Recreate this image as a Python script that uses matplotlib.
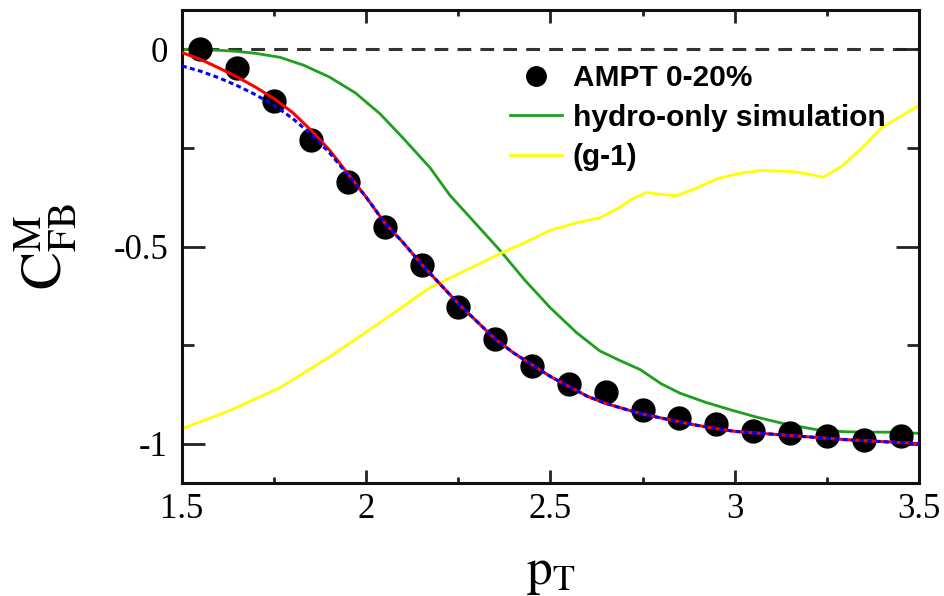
import matplotlib
matplotlib.use("Agg")
import matplotlib.pyplot as plt

# ------------------------- data -------------------------
ampt_x = [1.55, 1.65, 1.75, 1.85, 1.95, 2.05, 2.15, 2.25, 2.35, 2.45,
          2.55, 2.65, 2.75, 2.85, 2.95, 3.05, 3.15, 3.25, 3.35, 3.45]
ampt_y = [0.0, -0.046, -0.132, -0.229, -0.337, -0.451, -0.548, -0.654, -0.734, -0.802,
          -0.848, -0.870, -0.916, -0.934, -0.950, -0.967, -0.972, -0.982, -0.992, -0.980]

fit_x = [1.50, 1.55, 1.60, 1.65, 1.70, 1.75, 1.80, 1.85, 1.90, 1.95, 2.00, 2.05,
         2.10, 2.15, 2.20, 2.25, 2.30, 2.35, 2.40, 2.45, 2.50, 2.55, 2.60, 2.65,
         2.70, 2.75, 2.80, 2.85, 2.90, 2.95, 3.00, 3.10, 3.20, 3.30, 3.40, 3.50]
red_y = [-0.008, -0.025, -0.047, -0.070, -0.096, -0.125, -0.160, -0.205, -0.255, -0.315,
         -0.375, -0.440, -0.490, -0.545, -0.595, -0.645, -0.690, -0.735, -0.770, -0.800,
         -0.830, -0.855, -0.880, -0.898, -0.912, -0.925, -0.935, -0.945, -0.954, -0.962,
         -0.969, -0.976, -0.983, -0.990, -0.995, -1.000]
blue_y = [-0.042, -0.055, -0.072, -0.092, -0.115, -0.142, -0.175, -0.215, -0.262, -0.318,
          -0.375, -0.440, -0.490, -0.545, -0.595, -0.645, -0.690, -0.735, -0.770, -0.800,
          -0.830, -0.855, -0.880, -0.898, -0.912, -0.925, -0.935, -0.945, -0.954, -0.962,
          -0.969, -0.976, -0.983, -0.990, -0.995, -1.000]

hydro_x = [1.50, 1.60, 1.65, 1.70, 1.766, 1.83, 1.90, 1.97, 2.037, 2.10, 2.173, 2.227,
           2.30, 2.363, 2.43, 2.499, 2.57, 2.634, 2.69, 2.743, 2.80, 2.851, 2.92, 2.995,
           3.06, 3.131, 3.223, 3.30, 3.359, 3.43, 3.50]
hydro_y = [0.0, -0.002, -0.005, -0.010, -0.020, -0.040, -0.070, -0.110, -0.163, -0.225,
           -0.300, -0.370, -0.445, -0.510, -0.585, -0.655, -0.718, -0.765, -0.790, -0.812,
           -0.848, -0.872, -0.895, -0.916, -0.933, -0.949, -0.965, -0.970, -0.971, -0.971,
           -0.974]

g1_x = [1.50, 1.63, 1.766, 1.90, 2.037, 2.173, 2.309, 2.363, 2.43, 2.499, 2.57, 2.634,
        2.689, 2.72, 2.762, 2.80, 2.843, 2.90, 2.952, 3.01, 3.069, 3.158, 3.21, 3.24,
        3.294, 3.35, 3.40, 3.45, 3.50]
g1_y = [-0.962, -0.916, -0.858, -0.780, -0.693, -0.604, -0.543, -0.518, -0.490, -0.459,
        -0.440, -0.427, -0.400, -0.380, -0.363, -0.368, -0.371, -0.350, -0.328, -0.315,
        -0.307, -0.310, -0.318, -0.324, -0.294, -0.245, -0.197, -0.170, -0.142]

x_ticks = [1.5, 2.0, 2.5, 3.0, 3.5]
x_ticklabels = ["1.5", "2", "2.5", "3", "3.5"]
y_ticks = [0.0, -0.5, -1.0]
y_ticklabels = ["0", "-0.5", "-1"]

# ------------------------------------------------------------------------------
plt.rcParams["mathtext.fontset"] = "stix"

fig = plt.figure(figsize=(9.44, 5.96), dpi=100)
ax = fig.add_axes([0.1928, 0.1896, 0.7807, 0.7936])

ax.axhline(0.0, color="#333333", lw=2.2, ls=(0, (4.5, 3)), zorder=1)
ax.plot(hydro_x, hydro_y, color="#1f9f1f", lw=2.0, zorder=2, label="hydro-only simulation")
ax.plot(g1_x, g1_y, color="#ffff00", lw=2.0, zorder=2, label="(g-1)")
ax.plot(ampt_x, ampt_y, "o", color="black", ms=16.5, zorder=3, label="AMPT 0-20%")
ax.plot(fit_x, red_y, color="#ff0000", lw=2.2, zorder=4)
ax.plot(fit_x, blue_y, color="#0000ff", lw=2.2, ls=(0, (1.6, 1.1)), zorder=5)

ax.set_xlim(1.5, 3.5)
ax.set_ylim(-1.1, 0.1)
ax.set_xticks(x_ticks)
ax.set_xticklabels(x_ticklabels)
ax.set_xticks([1.75, 2.25, 2.75, 3.25], minor=True)
ax.set_yticks(y_ticks)
ax.set_yticklabels(y_ticklabels)
ax.set_yticks([-0.25, -0.75], minor=True)

for lab in ax.get_xticklabels() + ax.get_yticklabels():
    lab.set_family("Liberation Serif")
    lab.set_fontsize(25)

ax.tick_params(which="both", direction="in", top=True, right=True, width=2.0, color="#222222")
ax.tick_params(axis="x", which="major", length=9.5, pad=7)
ax.tick_params(axis="x", which="minor", length=4.5)
ax.tick_params(axis="y", which="major", length=16.5, pad=10)
ax.tick_params(axis="y", which="minor", length=8.5)
for sp in ax.spines.values():
    sp.set_linewidth(2.2)
    sp.set_color("#111111")

ax.set_ylabel(r"$\mathrm{C}^{\mathrm{M}}_{\mathrm{FB}}$", fontsize=41)
ax.yaxis.set_label_coords(-0.14, 0.5)
ax.set_xlabel(r"$\mathrm{p}_{\mathrm{T}}$", fontsize=37)
ax.xaxis.set_label_coords(0.5, -0.135)

handles, labels = ax.get_legend_handles_labels()
order = [labels.index("AMPT 0-20%"), labels.index("hydro-only simulation"), labels.index("(g-1)")]
ax.legend([handles[i] for i in order], [labels[i] for i in order],
          loc="upper left", bbox_to_anchor=(0.445, 0.885), frameon=False,
          prop={"family": "Liberation Sans", "weight": "bold", "size": 21.5},
          handlelength=1.75, handletextpad=0.35, labelspacing=0.38,
          borderpad=0, borderaxespad=0, markerscale=0.85)

fig.savefig("out.png", dpi=100)
